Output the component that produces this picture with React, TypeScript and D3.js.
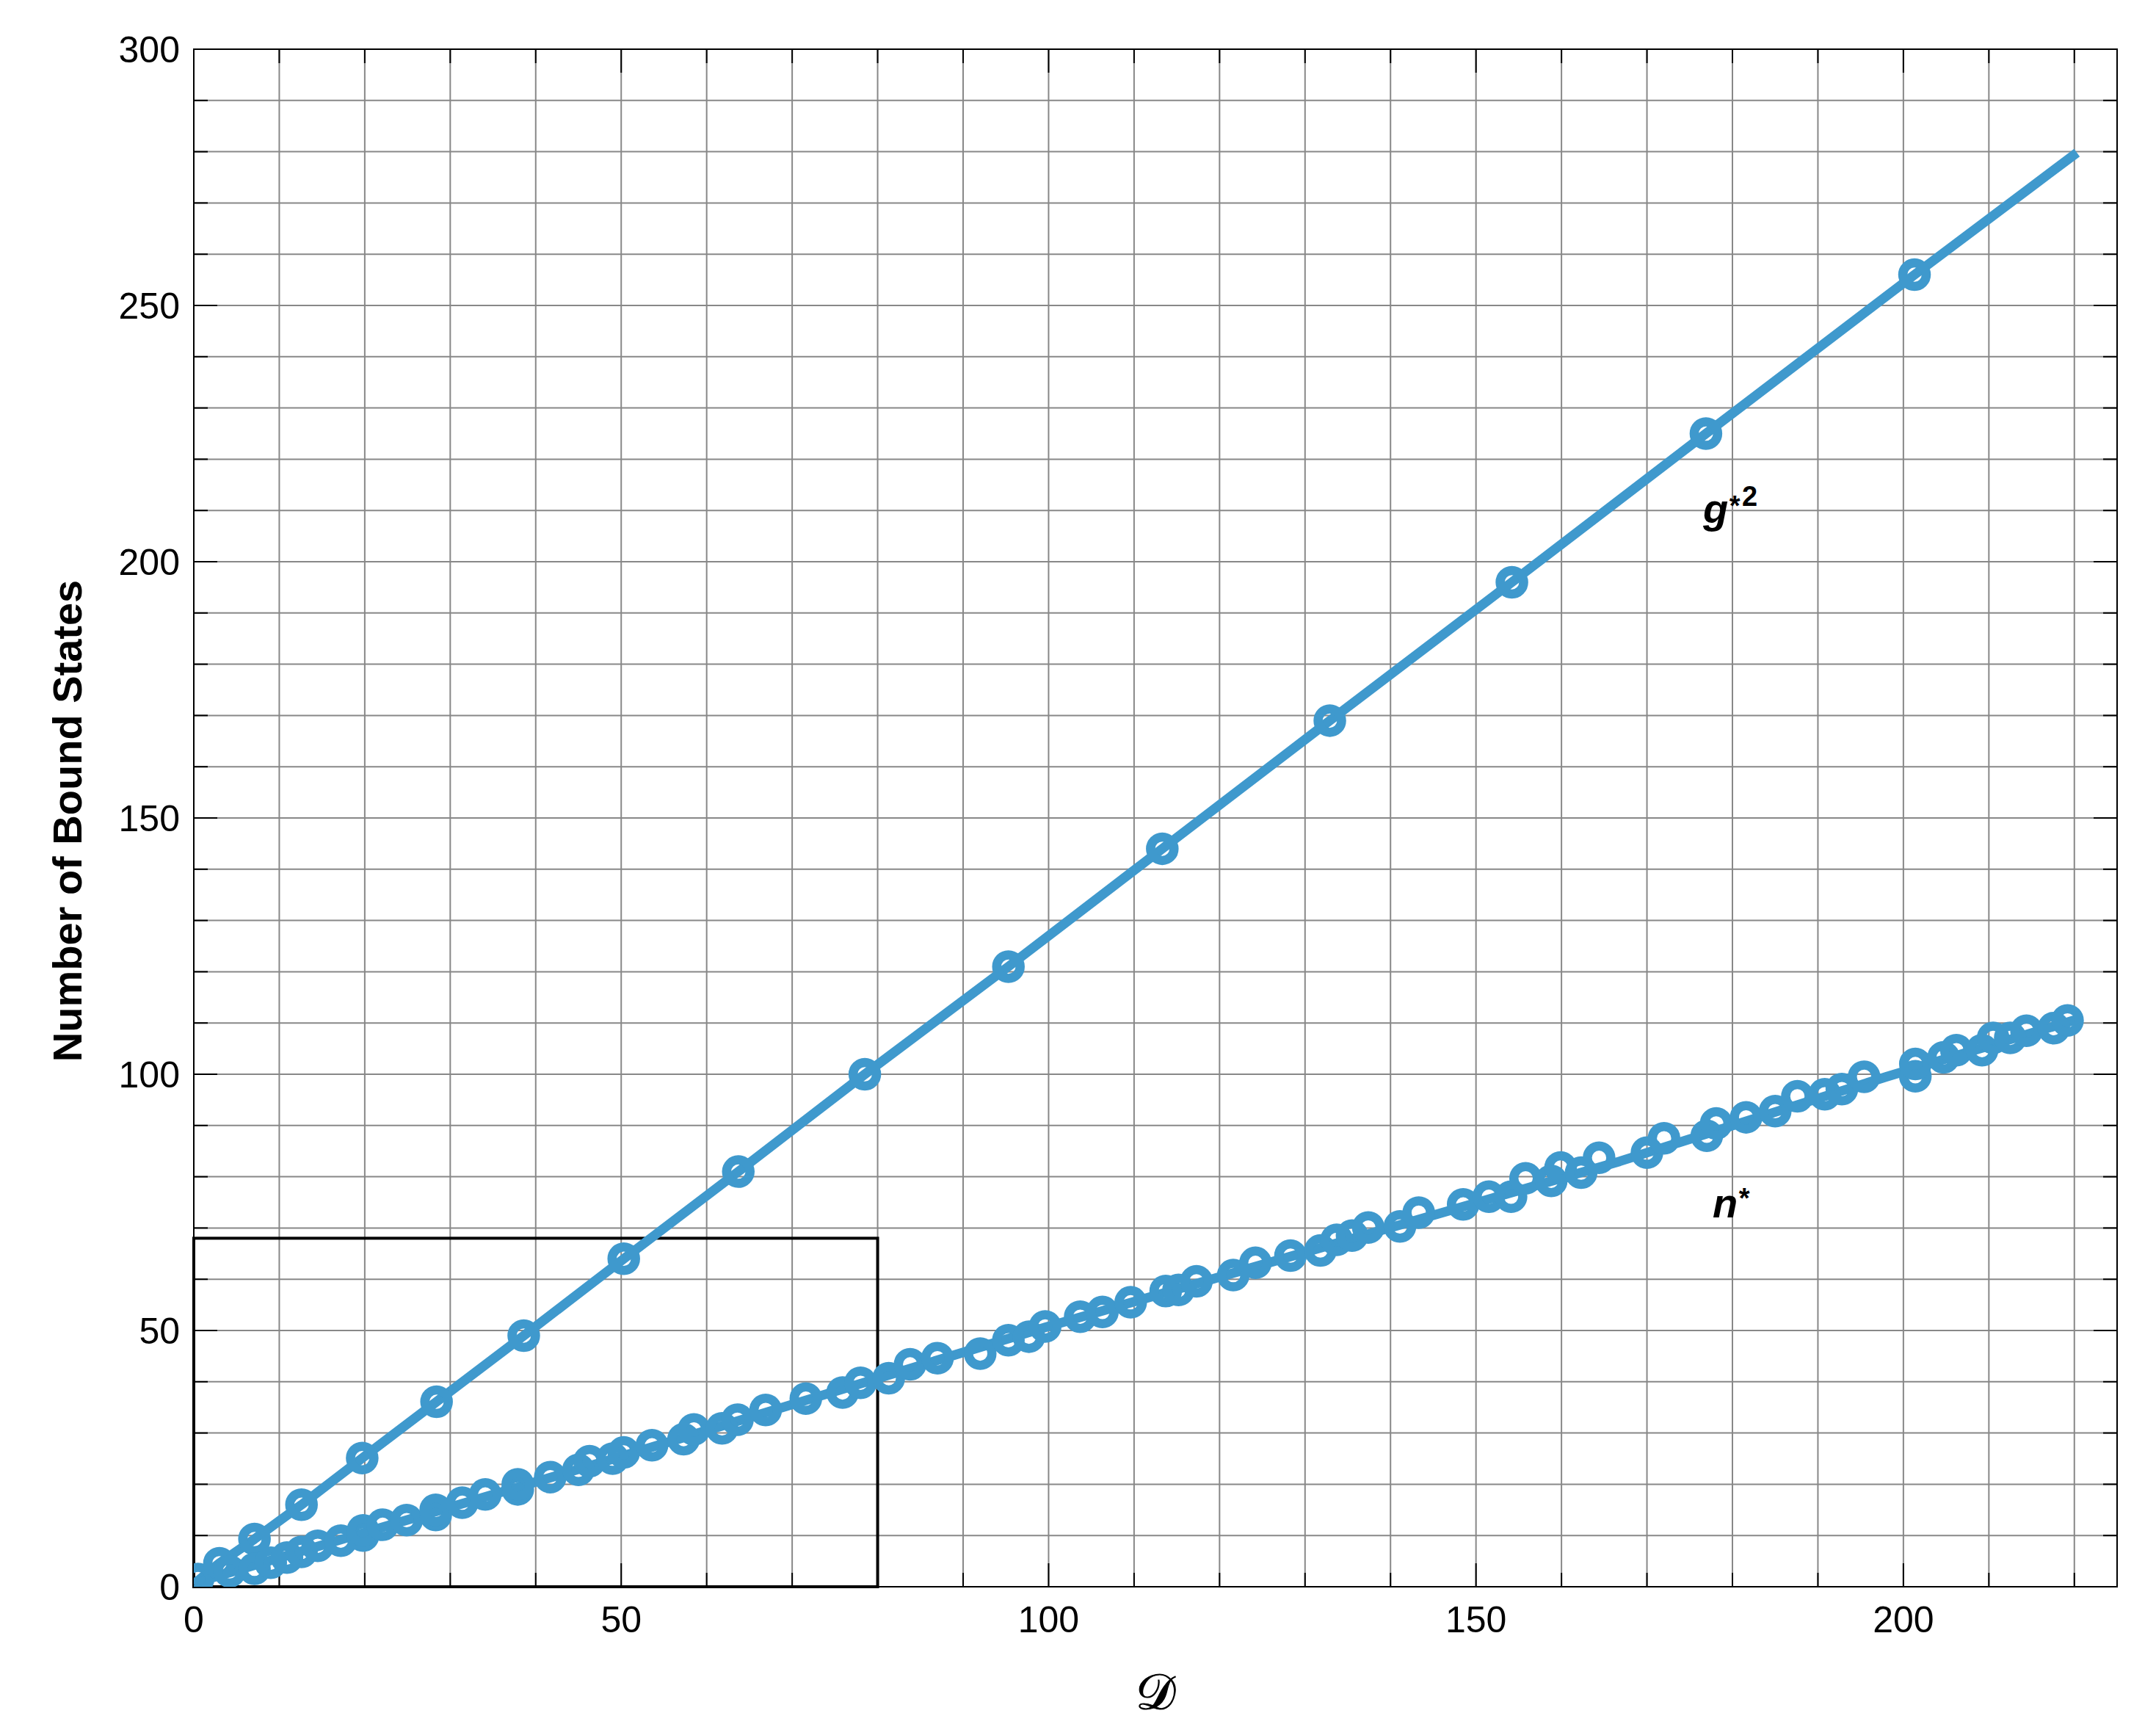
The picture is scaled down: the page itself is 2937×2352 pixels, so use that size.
import React, { useEffect, useRef } from 'react';
import * as d3 from 'd3';

const WIDTH = 2937;
const HEIGHT = 2352;

// axis ranges and tick values
const xDomain: [number, number] = [0, 225];
const yDomain: [number, number] = [0, 300];
const xMajorTicks = [0, 50, 100, 150, 200];
const yMajorTicks = [0, 50, 100, 150, 200, 250, 300];
const xMinorTicks = d3.range(0, 221, 10);
const yMinorTicks = d3.range(0, 301, 10);

// g*^2 markers (D, number of bound states)
const gStarPoints: [number, number][] = [
  [0.5, 1.5], [3.0, 4.6], [7.1, 9.3], [12.6, 16.0], [19.7, 25.1], [28.4, 36.1],
  [38.6, 49.0], [50.3, 64.0], [63.7, 81.0], [78.5, 100.0], [95.3, 121.0],
  [113.3, 144.0], [132.9, 169.0], [154.2, 196.0], [176.9, 225.0], [201.3, 256.0],
];

// g*^2 curve (runs past the last marker)
const gStarCurve: [number, number][] = [
  [0, 0.5], [3.0, 4.6], [7.1, 9.3], [12.6, 16.0], [19.7, 25.1], [28.4, 36.1],
  [38.6, 49.0], [50.3, 64.0], [63.7, 81.0], [78.5, 100.0], [95.3, 121.0],
  [113.3, 144.0], [132.9, 169.0], [154.2, 196.0], [176.9, 225.0], [201.3, 256.0],
  [220.3, 279.8],
];

// n* markers
const nStarPoints: [number, number][] = [
  [4.2, 3.0], [7.1, 3.5], [9.0, 4.7], [10.9, 5.7], [12.6, 6.8], [14.5, 8.0],
  [17.2, 9.0], [19.8, 10.0], [19.8, 11.0], [22.1, 12.1], [24.9, 13.0], [28.3, 14.0],
  [28.3, 15.0], [31.4, 16.4], [34.1, 18.0], [37.9, 19.0], [37.9, 20.0], [41.7, 21.4],
  [45.0, 22.8], [46.3, 24.5], [49.0, 25.0], [50.3, 26.2], [53.6, 27.6], [57.3, 28.8],
  [58.5, 30.7], [61.8, 30.9], [63.6, 32.6], [66.9, 34.5], [71.6, 36.7], [75.9, 37.9],
  [78.0, 39.8], [81.3, 40.7], [83.8, 43.4], [87.0, 44.6], [92.0, 45.5], [95.3, 48.1],
  [97.7, 48.8], [99.6, 50.8], [103.7, 52.7], [106.3, 53.6], [109.6, 55.5], [113.7, 57.7],
  [115.2, 57.9], [117.3, 59.6], [121.6, 60.8], [124.2, 63.2], [128.3, 64.6], [131.8, 65.6],
  [133.7, 67.7], [135.5, 68.5], [137.4, 70.1], [141.1, 70.3], [143.3, 73.0], [148.5, 74.6],
  [151.5, 76.1], [154.1, 76.1], [155.8, 79.7], [158.8, 79.2], [159.9, 81.8], [162.3, 80.8],
  [164.4, 83.7], [170.0, 84.7], [172.0, 87.5], [177.0, 88.0], [178.1, 90.4], [181.6, 91.6],
  [185.0, 92.8], [187.6, 95.7], [190.8, 96.1], [192.8, 97.1], [195.4, 99.5], [201.4, 99.6],
  [201.4, 102.0], [204.7, 103.3], [206.2, 104.7], [209.2, 104.7], [210.5, 107.1], [212.5, 107.1],
  [214.4, 108.5], [217.6, 109.0], [219.2, 110.5],
];

// n* curve
const nStarCurve: [number, number][] = [
  [0, 0.7], [48.6, 24.7], [99.6, 50.6], [166.8, 83.0], [198.0, 99.5], [220.3, 110.7],
];

// inset box corners (D, N)
const insetBox: [number, number][] = [[0, 0], [80, 68]];

const BLUE = '#3f99cd';
const FONT = '"Liberation Sans", Arial, Helvetica, sans-serif';

const App: React.FC = () => {
  const svgRef = useRef<SVGSVGElement>(null);

  useEffect(() => {
    if (!svgRef.current) return;
    const svg = d3.select(svgRef.current);
    svg.selectAll('*').remove();

    const margin = { top: 67, right: 53, bottom: 191, left: 264 };
    const x = d3.scaleLinear().domain(xDomain).range([margin.left, WIDTH - margin.right]);
    const y = d3.scaleLinear().domain(yDomain).range([HEIGHT - margin.bottom, margin.top]);
    const [x0, x1] = x.range();
    const [y0, y1] = y.range();

    svg.append('rect').attr('width', WIDTH).attr('height', HEIGHT).attr('fill', '#fff');

    // grid
    const grid = svg.append('g').attr('stroke', '#888').attr('stroke-width', 2);
    xMinorTicks.forEach(t => {
      grid.append('line').attr('x1', x(t)).attr('x2', x(t)).attr('y1', y0).attr('y2', y1);
    });
    yMinorTicks.forEach(t => {
      grid.append('line').attr('x1', x0).attr('x2', x1).attr('y1', y(t)).attr('y2', y(t));
    });

    // inward ticks on all four sides
    const ticks = svg.append('g').attr('stroke', '#000').attr('stroke-width', 2);
    const len = (major: boolean) => (major ? 32 : 19);
    xMinorTicks.forEach(t => {
      const l = len(xMajorTicks.includes(t));
      ticks.append('line').attr('x1', x(t)).attr('x2', x(t)).attr('y1', y0).attr('y2', y0 - l);
      ticks.append('line').attr('x1', x(t)).attr('x2', x(t)).attr('y1', y1).attr('y2', y1 + l);
    });
    yMinorTicks.forEach(t => {
      const l = len(yMajorTicks.includes(t));
      ticks.append('line').attr('x1', x0).attr('x2', x0 + l).attr('y1', y(t)).attr('y2', y(t));
      ticks.append('line').attr('x1', x1).attr('x2', x1 - l).attr('y1', y(t)).attr('y2', y(t));
    });

    // frame
    svg.append('rect')
      .attr('x', x0).attr('y', y1)
      .attr('width', x1 - x0).attr('height', y0 - y1)
      .attr('fill', 'none').attr('stroke', '#000').attr('stroke-width', 2);

    // inset box
    const [b0, b1] = insetBox;
    svg.append('rect')
      .attr('x', x(b0[0])).attr('y', y(b1[1]))
      .attr('width', x(b1[0]) - x(b0[0])).attr('height', y(b0[1]) - y(b1[1]))
      .attr('fill', 'none').attr('stroke', '#000').attr('stroke-width', 4);

    // tick labels
    const labels = svg.append('g').attr('font-family', FONT).attr('font-size', 50).attr('fill', '#000');
    xMajorTicks.forEach(t => {
      labels.append('text').attr('x', x(t)).attr('y', y0 + 62).attr('text-anchor', 'middle').text(t);
    });
    yMajorTicks.forEach(t => {
      labels.append('text').attr('x', x0 - 19).attr('y', y(t) + 18).attr('text-anchor', 'end').text(t);
    });

    // data
    svg.append('clipPath').attr('id', 'plot-clip')
      .append('rect').attr('x', x0).attr('y', y1).attr('width', x1 - x0).attr('height', y0 - y1);
    const plot = svg.append('g').attr('clip-path', 'url(#plot-clip)');

    const line = d3.line<[number, number]>().x(d => x(d[0])).y(d => y(d[1]));
    [gStarCurve, nStarCurve].forEach(c => {
      plot.append('path').attr('d', line(c))
        .attr('fill', 'none').attr('stroke', BLUE).attr('stroke-width', 13)
        .attr('stroke-linejoin', 'round');
    });
    [...gStarPoints, ...nStarPoints].forEach(p => {
      plot.append('circle').attr('cx', x(p[0])).attr('cy', y(p[1])).attr('r', 16)
        .attr('fill', 'none').attr('stroke', BLUE).attr('stroke-width', 12.5);
    });

    // series labels
    const gLabel = svg.append('text').attr('x', 2320).attr('y', 712)
      .attr('font-family', FONT).attr('font-weight', 'bold').attr('fill', '#000');
    gLabel.append('tspan').attr('font-style', 'italic').attr('font-size', 56).text('g');
    gLabel.append('tspan').attr('font-style', 'italic').attr('font-size', 38).attr('dy', -10).text('*');
    gLabel.append('tspan').attr('font-size', 38).attr('dy', -13).attr('dx', 4).text('2');

    const nLabel = svg.append('text').attr('x', 2333).attr('y', 1658)
      .attr('font-family', FONT).attr('font-weight', 'bold').attr('fill', '#000');
    nLabel.append('tspan').attr('font-style', 'italic').attr('font-size', 56).text('n');
    nLabel.append('tspan').attr('font-style', 'italic').attr('font-size', 38).attr('dy', -13).text('*');

    // axis titles
    svg.append('text')
      .attr('transform', `translate(111, ${(y0 + y1) / 2 + 4}) rotate(-90)`)
      .attr('text-anchor', 'middle')
      .attr('font-family', FONT).attr('font-weight', 'bold').attr('font-size', 56)
      .text('Number of Bound States');

    svg.append('text')
      .attr('x', (x0 + x1) / 2).attr('y', 2328)
      .attr('text-anchor', 'middle')
      .attr('font-family', '"DejaVu Serif", "DejaVu Sans", serif').attr('font-size', 68)
      .attr('stroke', '#000').attr('stroke-width', 1.2)
      .text('\u{1D49F}');
  }, []);

  return (
    <svg
      ref={svgRef}
      width={WIDTH}
      height={HEIGHT}
      style={{ position: 'absolute', left: 0, top: 0, display: 'block' }}
    />
  );
};

export default App;
